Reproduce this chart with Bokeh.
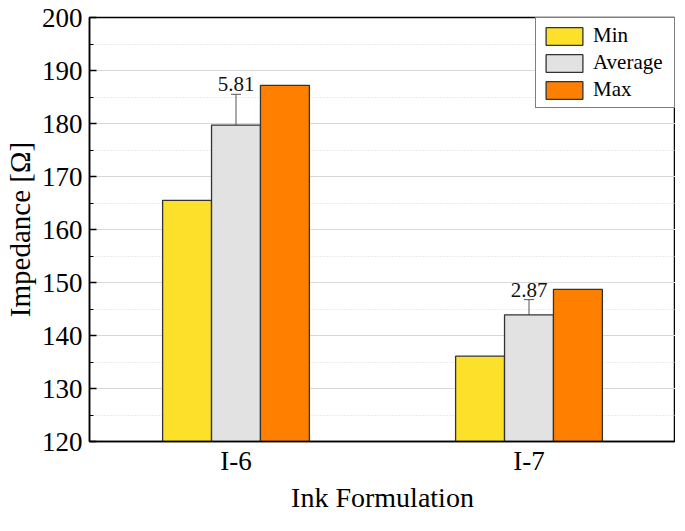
from bokeh.plotting import figure
from bokeh.models import (FactorRange, ColumnDataSource, Whisker, LabelSet, Legend,
                          LegendItem, Range1d, SingleIntervalTicker)
from bokeh.transform import dodge
from bokeh.embed import file_html
from bokeh.resources import INLINE

categories = ["I-6", "I-7"]
min_vals = [165.5, 136.1]
avg_vals = [179.7, 143.9]
max_vals = [187.2, 148.7]
std_vals = [5.81, 2.87]
std_labels = ["5.81", "2.87"]
series_names = ["Min", "Average", "Max"]

FONT = "'Liberation Serif', 'Times New Roman', serif"
W = 0.167

src = ColumnDataSource(dict(
    cat=categories, mn=min_vals, avg=avg_vals, mx=max_vals,
    lo=[a - s for a, s in zip(avg_vals, std_vals)],
    hi=[a + s for a, s in zip(avg_vals, std_vals)],
    lab=std_labels,
))

p = figure(width=675, height=515, x_range=FactorRange(*categories, range_padding=0),
           y_range=Range1d(120, 200), output_backend="svg", toolbar_location=None,
           min_border_left=60, min_border_right=0, min_border_top=17, min_border_bottom=60)

r_min = p.vbar(x=dodge("cat", -W, range=p.x_range), top="mn", bottom=120, width=W, source=src,
               fill_color="#FDE02A", line_color="#333333", line_width=1.3)
r_avg = p.vbar(x=dodge("cat", 0, range=p.x_range), top="avg", bottom=120, width=W, source=src,
               fill_color="#E2E2E2", line_color="#333333", line_width=1.3)
r_max = p.vbar(x=dodge("cat", W, range=p.x_range), top="mx", bottom=120, width=W, source=src,
               fill_color="#FF8000", line_color="#333333", line_width=1.3)

wh = Whisker(base="cat", upper="hi", lower="lo", source=src, line_color="#555555", line_width=1)
wh.upper_head.size = 10
wh.lower_head.size = 10
wh.upper_head.line_color = "#555555"
wh.lower_head.line_color = "#555555"
p.add_layout(wh)

labels = LabelSet(x="cat", y="hi", text="lab", source=src, text_align="center",
                  text_baseline="bottom", y_offset=3, text_font=FONT, text_font_size="21px",
                  text_color="#111111")
p.add_layout(labels)

# grid
p.xgrid.grid_line_color = None
p.ygrid.grid_line_color = "#d8d8d8"
p.ygrid.grid_line_width = 1
p.ygrid.minor_grid_line_color = "#d8d8d8"
p.ygrid.minor_grid_line_dash = "1 2"

p.yaxis.ticker = SingleIntervalTicker(interval=10, num_minor_ticks=2)

for ax in (p.xaxis[0], p.yaxis[0]):
    ax.axis_line_color = "black"
    ax.axis_line_width = 1.5
    ax.major_label_text_font = FONT
    ax.major_label_text_font_size = "27px"
    ax.major_label_text_color = "black"
    ax.axis_label_text_font = FONT
    ax.axis_label_text_font_style = "normal"
    ax.axis_label_text_color = "black"

p.yaxis.axis_label_text_font_size = "29px"
p.xaxis.axis_label_text_font_size = "28px"

p.yaxis.major_tick_in = 7
p.yaxis.major_tick_out = 0
p.yaxis.minor_tick_in = 4
p.yaxis.minor_tick_out = 0
p.yaxis.major_tick_line_color = "black"
p.yaxis.minor_tick_line_color = "black"
p.yaxis.major_tick_line_width = 1.3
p.yaxis.major_label_standoff = 7
p.yaxis.axis_label = "Impedance [Ω]"
p.yaxis.axis_label_standoff = 3

p.xaxis.major_tick_line_color = None
p.xaxis.minor_tick_line_color = None
p.xaxis.major_tick_out = 0
p.xaxis.major_tick_in = 0
p.xaxis.major_label_standoff = 4
p.xaxis.axis_label = "Ink Formulation"
p.xaxis.axis_label_standoff = 3

p.outline_line_color = "black"
p.outline_line_width = 1.5
p.outline_line_alpha = 1

legend = Legend(items=[LegendItem(label=series_names[0], renderers=[r_min]),
                       LegendItem(label=series_names[1], renderers=[r_avg]),
                       LegendItem(label=series_names[2], renderers=[r_max])],
                location="top_right")
legend.label_text_font = FONT
legend.label_text_font_size = "21px"
legend.label_text_color = "black"
legend.glyph_width = 46
legend.glyph_height = 22
legend.label_height = 22
legend.label_width = 76
legend.spacing = 2
legend.padding = 5
legend.margin = 0
legend.label_standoff = 6
legend.border_line_color = "black"
legend.border_line_width = 1
legend.background_fill_alpha = 1
p.add_layout(legend)

open("out.html", "w").write(file_html(p, INLINE))
